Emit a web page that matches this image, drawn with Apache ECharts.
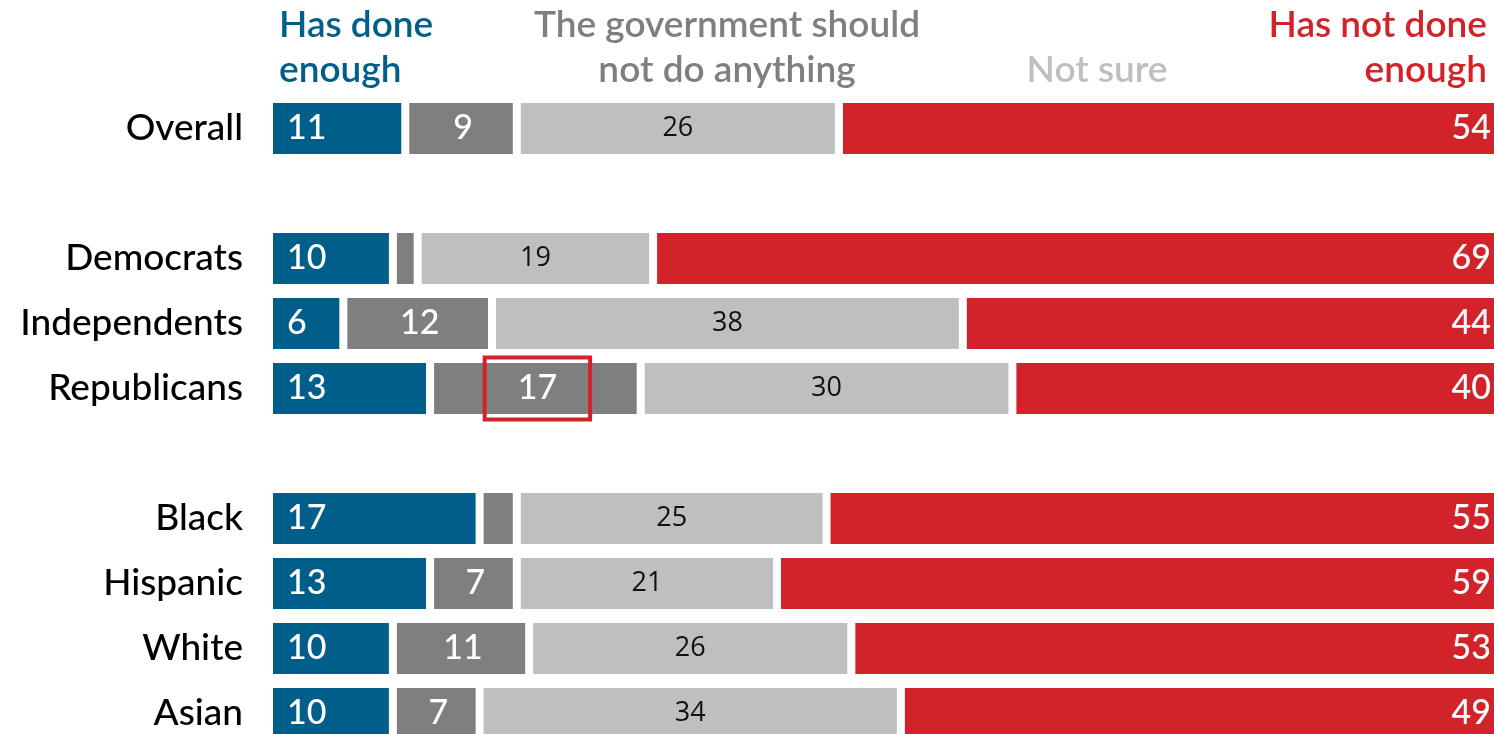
<!DOCTYPE html>
<html><head><meta charset="utf-8">
<script src="https://cdn.jsdelivr.net/npm/echarts@6/dist/echarts.min.js"></script>
<style>html,body{margin:0;padding:0;background:#fff}#c{width:1494px;height:734px}</style>
</head><body><div id="c"></div>
<script>
const categories = ['Overall', '', 'Democrats', 'Independents', 'Republicans', ' ', 'Black', 'Hispanic', 'White', 'Asian'];
const hasDone = [11, null, 10, 6, 13, null, 17, 13, 10, 10];
const govNothing = [9, null, 2, 12, 17, null, 3, 7, 11, 7];
const notSure = [26, null, 19, 38, 30, null, 25, 21, 26, 34];
const hasNotDone = [54, null, 69, 44, 40, null, 55, 59, 53, 49];
const seriesNames = ['Has done enough', 'The government should not do anything', 'Not sure', 'Has not done enough'];
const highlightIndex = 4; // Republicans, gov should not do anything

const BLUE = '#005f8a', DGRAY = '#7f7f7f', LGRAY = '#bfbfbf', RED = '#d2232a';
const FONT = 'Lato, "Open Sans", sans-serif';
const HW = '600';

const chart = echarts.init(document.getElementById('c'), null, {renderer: 'canvas'});
const fmt = p => (p.value == null || p.value < 5) ? '' : String(p.value);
const common = {
  type: 'bar', stack: 'all', barWidth: 59,
  itemStyle: {borderColor: '#fff', borderWidth: 4},
  emphasis: {disabled: true}
};
chart.setOption({
  animation: false,
  backgroundColor: '#fff',
  grid: {left: 269, width: 1239, top: 96, height: 650, containLabel: false, outerBoundsMode: 'none'},
  xAxis: {type: 'value', min: 0, max: 100, show: false},
  yAxis: {
    type: 'category', data: categories, inverse: true,
    axisLine: {show: false}, axisTick: {show: false},
    axisLabel: {color: '#000', fontSize: 37, fontWeight: 500, fontFamily: FONT, margin: 26}
  },
  graphic: [
    {type: 'text', x: 279, y: 3, style: {text: 'Has done\nenough', fill: BLUE, font: HW + ' 37px ' + FONT, lineHeight: 45, textAlign: 'left'}},
    {type: 'text', x: 727, y: 3, style: {text: 'The government should\nnot do anything', fill: DGRAY, font: HW + ' 37px ' + FONT, lineHeight: 45, textAlign: 'center'}},
    {type: 'text', x: 1097, y: 48, style: {text: 'Not sure', fill: LGRAY, font: HW + ' 37px ' + FONT, lineHeight: 45, textAlign: 'center'}},
    {type: 'text', x: 1487, y: 3, style: {text: 'Has not done\nenough', fill: RED, font: HW + ' 37px ' + FONT, lineHeight: 45, textAlign: 'right'}}
  ],
  series: [
    Object.assign({}, common, {name: seriesNames[0], data: hasDone, itemStyle: Object.assign({}, common.itemStyle, {color: BLUE}),
      label: {show: true, position: 'insideLeft', distance: 18, color: '#fff', fontSize: 34, fontWeight: 500, fontFamily: FONT, formatter: fmt}}),
    Object.assign({}, common, {name: seriesNames[1],
      data: govNothing.map((v, i) => i === highlightIndex ? {value: v, label: {borderColor: RED, borderWidth: 4, padding: [14, 33, 14, 33], lineHeight: 34}} : v),
      itemStyle: Object.assign({}, common.itemStyle, {color: DGRAY}),
      label: {show: true, position: 'inside', offset: [2, 0], color: '#fff', fontSize: 34, fontWeight: 500, fontFamily: FONT, formatter: fmt}}),
    Object.assign({}, common, {name: seriesNames[2], data: notSure, itemStyle: Object.assign({}, common.itemStyle, {color: LGRAY}),
      label: {show: true, position: 'inside', color: '#111', fontSize: 27, fontFamily: '"Open Sans", sans-serif', formatter: fmt}}),
    Object.assign({}, common, {name: seriesNames[3], data: hasNotDone, itemStyle: Object.assign({}, common.itemStyle, {color: RED}),
      label: {show: true, position: 'insideRight', distance: 17, color: '#fff', fontSize: 34, fontWeight: 500, fontFamily: FONT, formatter: fmt}})
  ]
});
</script></body></html>
